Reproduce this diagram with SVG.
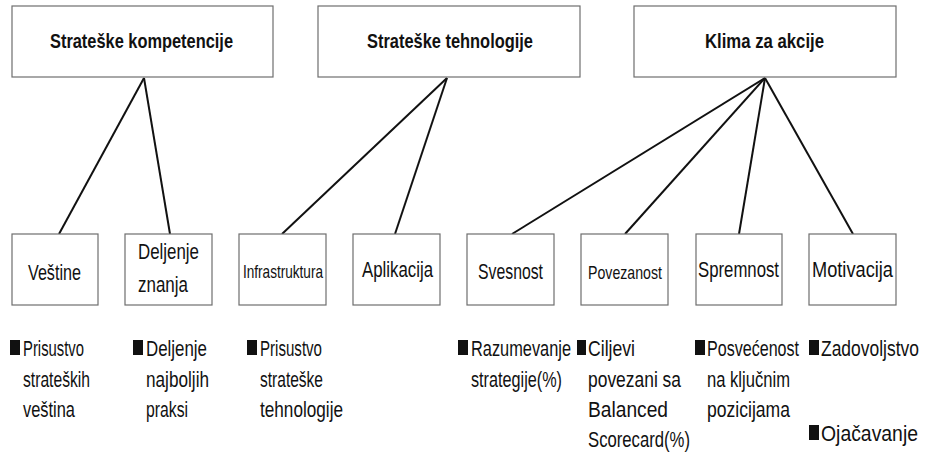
<svg xmlns="http://www.w3.org/2000/svg" width="925" height="452" viewBox="0 0 925 452">
<style>
.box{fill:#fff;stroke:#6e6e6e;stroke-width:1.2}
.t{font-family:"Liberation Sans",Arial,sans-serif;fill:#111}
.h{font-size:21px;font-weight:bold}
.n{font-size:22px}
.s{font-size:19px}
.b{font-size:22px}
.c line{stroke:#111;stroke-width:2}
.sq{fill:#111}
</style>
<rect width="925" height="452" fill="#fff"/>
<g class="c" id="connectors">
<line x1="144" y1="78" x2="59" y2="234"/>
<line x1="144" y1="78" x2="170" y2="234"/>
<line x1="447" y1="78" x2="282" y2="234"/>
<line x1="447" y1="78" x2="395" y2="234"/>
<line x1="765" y1="78" x2="512" y2="234"/>
<line x1="765" y1="78" x2="625" y2="234"/>
<line x1="765" y1="78" x2="739" y2="234"/>
<line x1="765" y1="78" x2="853" y2="234"/>
</g>
<g id="n-komp"><rect class="box" x="12" y="6" width="261" height="71"/><text class="t h" x="50" y="48" textLength="183" lengthAdjust="spacingAndGlyphs">Strateške kompetencije</text></g>
<g id="n-tehn"><rect class="box" x="318" y="6" width="262" height="71"/><text class="t h" x="367" y="48" textLength="166" lengthAdjust="spacingAndGlyphs">Strateške tehnologije</text></g>
<g id="n-klima"><rect class="box" x="634" y="6" width="262" height="71"/><text class="t h" x="705" y="48" textLength="119" lengthAdjust="spacingAndGlyphs">Klima za akcije</text></g>

<g id="n-vestine"><rect class="box" x="12" y="234" width="86" height="71"/><text class="t n" x="28" y="280" textLength="53" lengthAdjust="spacingAndGlyphs">Veštine</text></g>
<g id="n-deljenje"><rect class="box" x="125" y="234" width="87" height="71"/><text class="t n" x="138" y="259" textLength="61" lengthAdjust="spacingAndGlyphs">Deljenje</text><text class="t n" x="138" y="292" textLength="50" lengthAdjust="spacingAndGlyphs">znanja</text></g>
<g id="n-infra"><rect class="box" x="239" y="234" width="87" height="71"/><text class="t s" x="243" y="278" textLength="80" lengthAdjust="spacingAndGlyphs">Infrastruktura</text></g>
<g id="n-aplik"><rect class="box" x="353" y="234" width="87" height="71"/><text class="t n" x="362" y="277" textLength="71" lengthAdjust="spacingAndGlyphs">Aplikacija</text></g>
<g id="n-svesnost"><rect class="box" x="467" y="234" width="87" height="71"/><text class="t n" x="478" y="279" textLength="65" lengthAdjust="spacingAndGlyphs">Svesnost</text></g>
<g id="n-povez"><rect class="box" x="581" y="234" width="87" height="71"/><text class="t s" x="588" y="279" textLength="74" lengthAdjust="spacingAndGlyphs">Povezanost</text></g>
<g id="n-sprem"><rect class="box" x="696" y="234" width="86" height="71"/><text class="t n" x="698" y="277" textLength="81" lengthAdjust="spacingAndGlyphs">Spremnost</text></g>
<g id="n-motiv"><rect class="box" x="809" y="234" width="87" height="71"/><text class="t n" x="812" y="277" textLength="81" lengthAdjust="spacingAndGlyphs">Motivacija</text></g>

<g id="m-vestine"><rect class="sq" x="10" y="340" width="10" height="15"/>
<text class="t b" x="23" y="356" textLength="61" lengthAdjust="spacingAndGlyphs">Prisustvo</text>
<text class="t b" x="23" y="387" textLength="67" lengthAdjust="spacingAndGlyphs">strateških</text>
<text class="t b" x="23" y="417" textLength="52" lengthAdjust="spacingAndGlyphs">veština</text></g>
<g id="m-deljenje"><rect class="sq" x="133" y="340" width="10" height="15"/>
<text class="t b" x="146" y="356" textLength="61" lengthAdjust="spacingAndGlyphs">Deljenje</text>
<text class="t b" x="146" y="387" textLength="63" lengthAdjust="spacingAndGlyphs">najboljih</text>
<text class="t b" x="146" y="417" textLength="42" lengthAdjust="spacingAndGlyphs">praksi</text></g>
<g id="m-infra"><rect class="sq" x="247" y="340" width="10" height="15"/>
<text class="t b" x="260" y="356" textLength="62" lengthAdjust="spacingAndGlyphs">Prisustvo</text>
<text class="t b" x="260" y="387" textLength="63" lengthAdjust="spacingAndGlyphs">strateške</text>
<text class="t b" x="260" y="417" textLength="83" lengthAdjust="spacingAndGlyphs">tehnologije</text></g>
<g id="m-svesnost"><rect class="sq" x="458" y="340" width="10" height="15"/>
<text class="t b" x="471" y="356" textLength="100" lengthAdjust="spacingAndGlyphs">Razumevanje</text>
<text class="t b" x="471" y="387" textLength="91" lengthAdjust="spacingAndGlyphs">strategije(%)</text></g>
<g id="m-povez"><rect class="sq" x="577" y="340" width="9" height="15"/>
<text class="t b" x="588" y="356" textLength="47" lengthAdjust="spacingAndGlyphs">Ciljevi</text>
<text class="t b" x="588" y="387" textLength="93" lengthAdjust="spacingAndGlyphs">povezani sa</text>
<text class="t b" x="588" y="417" textLength="80" lengthAdjust="spacingAndGlyphs">Balanced</text>
<text class="t b" x="588" y="447" textLength="102" lengthAdjust="spacingAndGlyphs">Scorecard(%)</text></g>
<g id="m-sprem"><rect class="sq" x="695" y="340" width="10" height="15"/>
<text class="t b" x="707" y="356" textLength="92" lengthAdjust="spacingAndGlyphs">Posvećenost</text>
<text class="t b" x="707" y="387" textLength="83" lengthAdjust="spacingAndGlyphs">na ključnim</text>
<text class="t b" x="707" y="417" textLength="83" lengthAdjust="spacingAndGlyphs">pozicijama</text></g>
<g id="m-motiv"><rect class="sq" x="809" y="340" width="10" height="15"/>
<text class="t b" x="821" y="356" textLength="98" lengthAdjust="spacingAndGlyphs">Zadovoljstvo</text>
<rect class="sq" x="809" y="425" width="10" height="15"/>
<text class="t b" x="821" y="441" textLength="97" lengthAdjust="spacingAndGlyphs">Ojačavanje</text></g>
</svg>
